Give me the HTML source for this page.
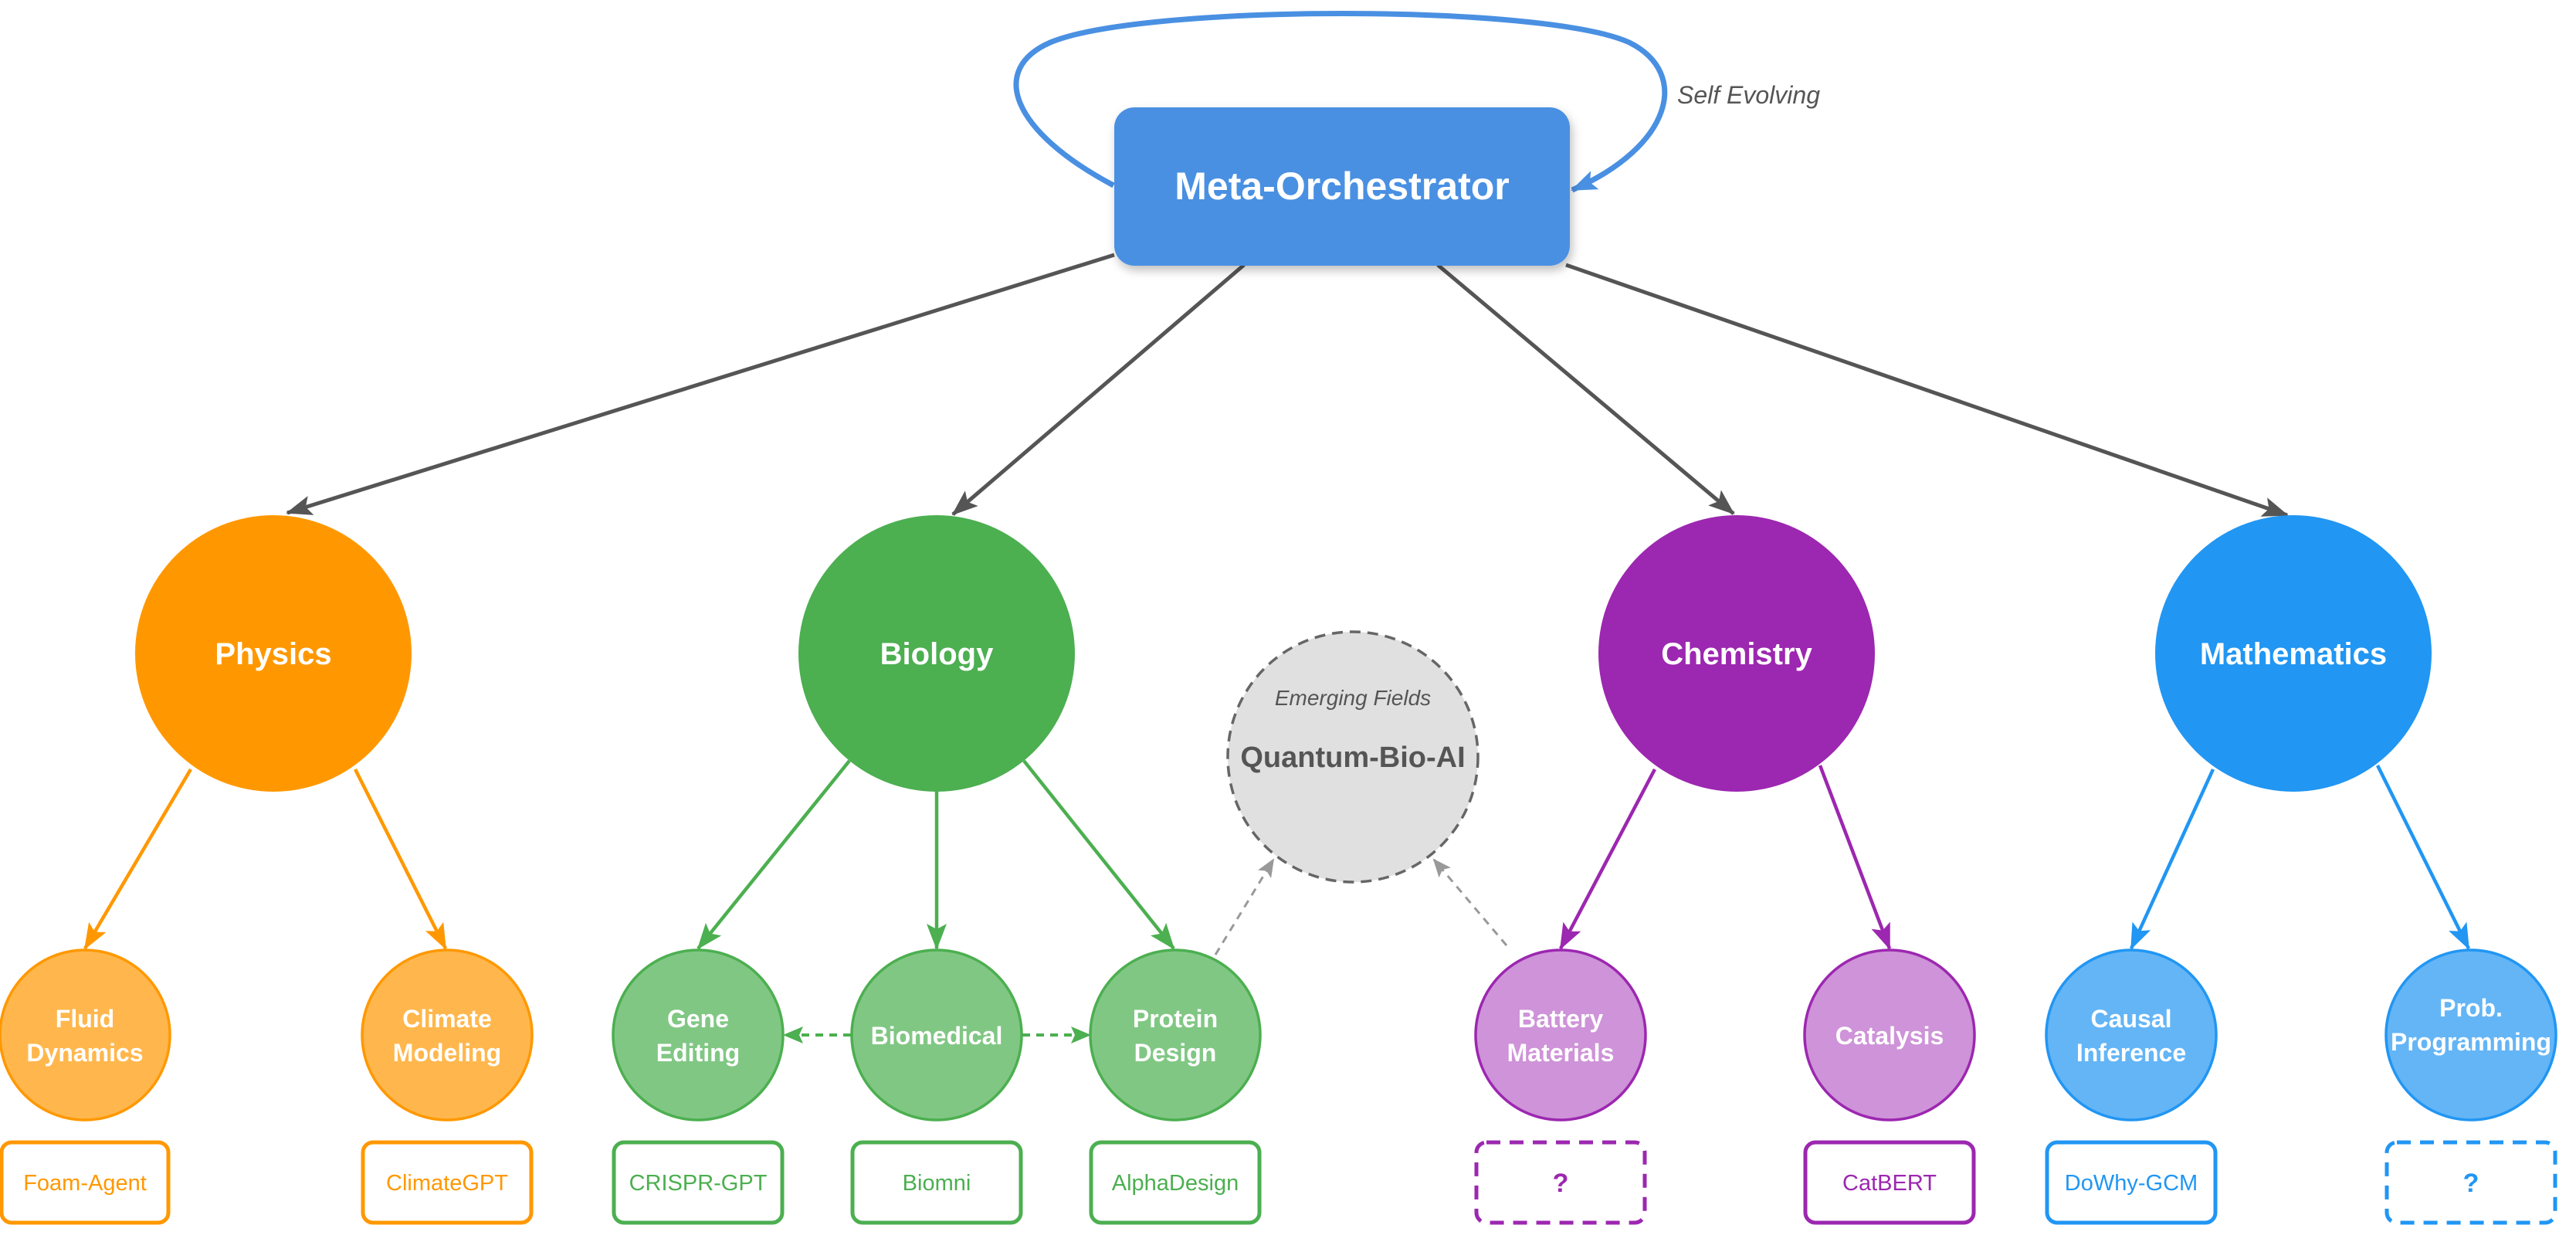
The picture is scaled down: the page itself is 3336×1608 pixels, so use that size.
<!DOCTYPE html>
<html><head><meta charset="utf-8"><style>
html,body{margin:0;padding:0;background:#fff}
svg{display:block}
text{font-family:"Liberation Sans",Arial,sans-serif}
</style></head><body>
<svg width="3336" height="1608" viewBox="0 0 3336 1608" xmlns="http://www.w3.org/2000/svg">
<defs>
<marker id="ag" markerWidth="34" markerHeight="26" refX="32" refY="13" orient="auto" markerUnits="userSpaceOnUse"><path d="M0,0 L34,13 L0,26 L7,13 z" fill="#555"/></marker>
<marker id="ab" markerWidth="34" markerHeight="26" refX="32" refY="13" orient="auto" markerUnits="userSpaceOnUse"><path d="M0,0 L34,13 L0,26 L7,13 z" fill="#4a90e2"/></marker>
<marker id="ao" markerWidth="34" markerHeight="26" refX="32" refY="13" orient="auto" markerUnits="userSpaceOnUse"><path d="M0,0 L34,13 L0,26 L7,13 z" fill="#ff9800"/></marker>
<marker id="agr" markerWidth="34" markerHeight="26" refX="32" refY="13" orient="auto" markerUnits="userSpaceOnUse"><path d="M0,0 L34,13 L0,26 L7,13 z" fill="#4caf50"/></marker>
<marker id="agr2" markerWidth="26" markerHeight="22" refX="24" refY="11" orient="auto" markerUnits="userSpaceOnUse"><path d="M0,0 L26,11 L0,22 L5,11 z" fill="#4caf50"/></marker>
<marker id="ap" markerWidth="34" markerHeight="26" refX="32" refY="13" orient="auto" markerUnits="userSpaceOnUse"><path d="M0,0 L34,13 L0,26 L7,13 z" fill="#9c27b0"/></marker>
<marker id="abl" markerWidth="34" markerHeight="26" refX="32" refY="13" orient="auto" markerUnits="userSpaceOnUse"><path d="M0,0 L34,13 L0,26 L7,13 z" fill="#2196f3"/></marker>
<marker id="agy" markerWidth="24" markerHeight="20" refX="22" refY="10" orient="auto" markerUnits="userSpaceOnUse"><path d="M0,0 L24,10 L0,20 L5,10 z" fill="#999"/></marker>
<filter id="sh" x="-10%" y="-10%" width="130%" height="140%"><feDropShadow dx="3" dy="6" stdDeviation="6" flood-color="#000" flood-opacity="0.25"/></filter>
</defs>

<!-- self loop -->
<path d="M1442,240 C1310,170 1280,90 1360,55 C1480,5 2000,5 2110,55 C2190,95 2165,190 2036,246" fill="none" stroke="#4a90e2" stroke-width="7" marker-end="url(#ab)"/>
<text x="2172" y="134" font-size="32" font-style="italic" fill="#555">Self Evolving</text>

<!-- main arrows -->
<g stroke="#555" stroke-width="5" fill="none">
<line x1="1443" y1="330" x2="372" y2="664" marker-end="url(#ag)"/>
<line x1="1611" y1="343" x2="1234" y2="666" marker-end="url(#ag)"/>
<line x1="1862" y1="343" x2="2245" y2="665" marker-end="url(#ag)"/>
<line x1="2028" y1="343" x2="2962" y2="667" marker-end="url(#ag)"/>
</g>

<!-- meta box -->
<rect x="1443" y="139" width="590" height="205" rx="26" fill="#4a90e2" filter="url(#sh)"/>
<text x="1738" y="258" font-size="50" font-weight="bold" fill="#fff" text-anchor="middle">Meta-Orchestrator</text>

<!-- sub arrows -->
<g fill="none" stroke-width="4.5">
<line x1="247" y1="996" x2="110" y2="1228" stroke="#ff9800" marker-end="url(#ao)"/>
<line x1="460" y1="996" x2="577" y2="1228" stroke="#ff9800" marker-end="url(#ao)"/>
<line x1="1100" y1="985" x2="904" y2="1228" stroke="#4caf50" marker-end="url(#agr)"/>
<line x1="1213" y1="1023" x2="1213" y2="1228" stroke="#4caf50" marker-end="url(#agr)"/>
<line x1="1326" y1="985" x2="1520" y2="1228" stroke="#4caf50" marker-end="url(#agr)"/>
<line x1="2143" y1="996" x2="2021" y2="1228" stroke="#9c27b0" marker-end="url(#ap)"/>
<line x1="2357" y1="991" x2="2447" y2="1228" stroke="#9c27b0" marker-end="url(#ap)"/>
<line x1="2866" y1="996" x2="2760" y2="1228" stroke="#2196f3" marker-end="url(#abl)"/>
<line x1="3079" y1="991" x2="3197" y2="1228" stroke="#2196f3" marker-end="url(#abl)"/>
</g>
<g fill="none" stroke-width="4" stroke-dasharray="10 8">
<line x1="1102" y1="1340" x2="1016" y2="1340" stroke="#4caf50" marker-end="url(#agr2)"/>
<line x1="1324" y1="1340" x2="1411" y2="1340" stroke="#4caf50" marker-end="url(#agr2)"/>
</g>
<g fill="none" stroke="#999" stroke-width="3" stroke-dasharray="10 8">
<line x1="1574" y1="1236" x2="1649" y2="1113" marker-end="url(#agy)"/>
<line x1="1951" y1="1224" x2="1857" y2="1113" marker-end="url(#agy)"/>
</g>

<!-- main circles -->
<g font-size="40" font-weight="bold" fill="#fff" text-anchor="middle">
<circle cx="354" cy="846" r="179" fill="#ff9800"/>
<text x="354" y="860" fill="#fff">Physics</text>
<circle cx="1213" cy="846" r="179" fill="#4caf50"/>
<text x="1213" y="860" fill="#fff">Biology</text>
<circle cx="2249" cy="846" r="179" fill="#9c27b0"/>
<text x="2249" y="860" fill="#fff">Chemistry</text>
<circle cx="2970" cy="846" r="179" fill="#2196f3"/>
<text x="2970" y="860" fill="#fff">Mathematics</text>
</g>

<!-- emerging -->
<circle cx="1752" cy="980" r="162" fill="#e0e0e0" stroke="#666" stroke-width="3.5" stroke-dasharray="14 9"/>
<text x="1752" y="913" font-size="28" font-style="italic" fill="#555" text-anchor="middle">Emerging Fields</text>
<text x="1752" y="993" font-size="38" font-weight="bold" fill="#555" text-anchor="middle">Quantum-Bio-AI</text>

<!-- small circles -->
<g stroke-width="3.5" font-size="32" font-weight="bold" text-anchor="middle">
<circle cx="110" cy="1340" r="110" fill="#ffb74d" stroke="#ff9800"/>
<text x="110" y="1330" fill="#fff" stroke="none">Fluid</text><text x="110" y="1374" fill="#fff" stroke="none">Dynamics</text>
<circle cx="579" cy="1340" r="110" fill="#ffb74d" stroke="#ff9800"/>
<text x="579" y="1330" fill="#fff" stroke="none">Climate</text><text x="579" y="1374" fill="#fff" stroke="none">Modeling</text>
<circle cx="904" cy="1340" r="110" fill="#81c784" stroke="#4caf50"/>
<text x="904" y="1330" fill="#fff" stroke="none">Gene</text><text x="904" y="1374" fill="#fff" stroke="none">Editing</text>
<circle cx="1213" cy="1340" r="110" fill="#81c784" stroke="#4caf50"/>
<text x="1213" y="1352" fill="#fff" stroke="none">Biomedical</text>
<circle cx="1522" cy="1340" r="110" fill="#81c784" stroke="#4caf50"/>
<text x="1522" y="1330" fill="#fff" stroke="none">Protein</text><text x="1522" y="1374" fill="#fff" stroke="none">Design</text>
<circle cx="2021" cy="1340" r="110" fill="#ce93d8" stroke="#9c27b0"/>
<text x="2021" y="1330" fill="#fff" stroke="none">Battery</text><text x="2021" y="1374" fill="#fff" stroke="none">Materials</text>
<circle cx="2447" cy="1340" r="110" fill="#ce93d8" stroke="#9c27b0"/>
<text x="2447" y="1352" fill="#fff" stroke="none">Catalysis</text>
<circle cx="2760" cy="1340" r="110" fill="#64b5f6" stroke="#2196f3"/>
<text x="2760" y="1330" fill="#fff" stroke="none">Causal</text><text x="2760" y="1374" fill="#fff" stroke="none">Inference</text>
<circle cx="3200" cy="1340" r="110" fill="#64b5f6" stroke="#2196f3"/>
<text x="3200" y="1316" fill="#fff" stroke="none">Prob.</text><text x="3200" y="1360" fill="#fff" stroke="none">Programming</text>
</g>

<!-- boxes -->
<g fill="#fff" stroke-width="5">
<rect x="2" y="1479" width="216" height="104" rx="13" stroke="#ff9800"/>
<rect x="470" y="1479" width="218" height="104" rx="13" stroke="#ff9800"/>
<rect x="795" y="1479" width="218" height="104" rx="13" stroke="#4caf50"/>
<rect x="1104" y="1479" width="218" height="104" rx="13" stroke="#4caf50"/>
<rect x="1413" y="1479" width="218" height="104" rx="13" stroke="#4caf50"/>
<rect x="1912" y="1479" width="218" height="104" rx="13" stroke="#9c27b0" stroke-dasharray="18 12"/>
<rect x="2338" y="1479" width="218" height="104" rx="13" stroke="#9c27b0"/>
<rect x="2651" y="1479" width="218" height="104" rx="13" stroke="#2196f3"/>
<rect x="3091" y="1479" width="218" height="104" rx="13" stroke="#2196f3" stroke-dasharray="18 12"/>
</g>
<g font-size="29" text-anchor="middle">
<text x="110" y="1541" fill="#ff9800">Foam-Agent</text>
<text x="579" y="1541" fill="#ff9800">ClimateGPT</text>
<text x="904" y="1541" fill="#4caf50">CRISPR-GPT</text>
<text x="1213" y="1541" fill="#4caf50">Biomni</text>
<text x="1522" y="1541" fill="#4caf50">AlphaDesign</text>
<text x="2021" y="1543" fill="#9c27b0" font-weight="bold" font-size="34">?</text>
<text x="2447" y="1541" fill="#9c27b0">CatBERT</text>
<text x="2760" y="1541" fill="#2196f3">DoWhy-GCM</text>
<text x="3200" y="1543" fill="#2196f3" font-weight="bold" font-size="34">?</text>
</g>
</svg>
</body></html>
